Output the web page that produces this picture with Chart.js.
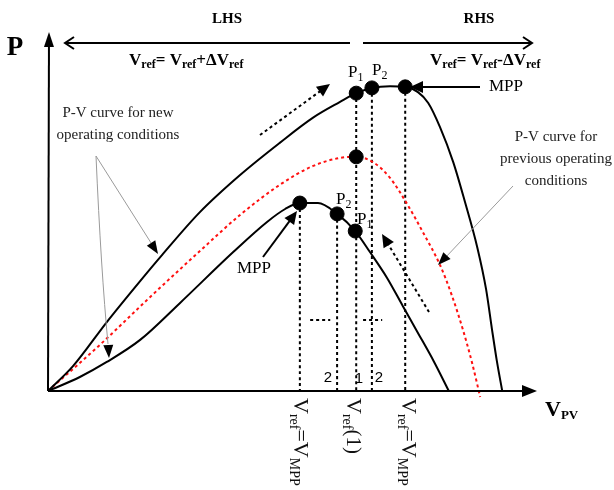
<!DOCTYPE html>
<html>
<head>
<meta charset="utf-8">
<script src="https://cdn.jsdelivr.net/npm/chart.js@4"></script>
<style>
  body { margin: 0; background: #fff; }
  #wrap { width: 614px; height: 490px; }
</style>
</head>
<body>
<div id="wrap"><canvas id="pvChart" width="614" height="490"></canvas></div>
<script>
// P-V curves (V and P in arbitrary units, origin of the axes = 0,0)
const upperV = [0, 5.1, 12.0, 18.8, 23.3, 31.0, 39.2, 47.3, 54.1, 59.6, 62.9, 66.1, 69.8, 72.9, 75.5, 77.6, 80.0, 82.7, 85.1, 87.6, 89.4, 90.6, 91.6, 92.7];
const upperP = [0, 7.1, 19.7, 31.4, 38.9, 51.1, 61.7, 70.9, 78.1, 82.6, 85.1, 86.6, 87.1, 86.9, 85.4, 82.3, 75.4, 65.4, 54.0, 41.1, 29.1, 17.7, 8.6, 0];
const redV = [0, 10.6, 20.8, 31.0, 39.2, 47.3, 54.1, 59.6, 62.9, 66.3, 69.8, 73.3, 76.5, 80.0, 82.4, 84.7, 86.5, 88.2];
const redP = [0, 13.2, 26.8, 40.0, 50.3, 58.9, 64.3, 66.6, 66.9, 65.4, 60.9, 53.4, 45.4, 36.0, 27.4, 17.4, 8.3, -1.7];
const lowerV = [0, 6.5, 12.0, 18.8, 26.9, 37.8, 44.7, 48.4, 51.4, 55.1, 59.0, 62.7, 65.7, 69.2, 72.4, 75.5, 78.8, 81.8];
const lowerP = [0, 4.0, 8.3, 14.6, 25.1, 39.7, 48.3, 52.0, 53.7, 53.7, 50.6, 45.7, 39.7, 32.3, 24.3, 16.6, 8.3, 0];

// operating points: upper P1, P2, MPP, previous peak, lower MPP, P2, P1
const dotV = [62.9, 66.1, 72.9, 62.9, 51.4, 59.0, 62.7];
const dotP = [85.1, 86.6, 86.9, 66.9, 53.7, 50.6, 45.7];

// dotted drop lines to the V axis
const dropV = [51.4, 59.0, 62.9, 66.1, 72.9];
const dropTop = [53.7, 50.6, 85.1, 86.6, 86.9];

// short dashed step markers
const stepV = [[53.5, 57.6], [64.3, 68.2]];
const stepP = 20.3;

const pts = (xs, ys) => xs.map((x, i) => ({ x: x, y: ys[i] }));

const SERIF = "'Liberation Serif', 'Times New Roman', serif";
const SANS = "'Liberation Sans', Arial, sans-serif";

function head(ctx, x1, y1, x2, y2, len, half) {
  const a = Math.atan2(y2 - y1, x2 - x1);
  ctx.beginPath();
  ctx.moveTo(x2, y2);
  ctx.lineTo(x2 - len * Math.cos(a) + half * Math.sin(a), y2 - len * Math.sin(a) - half * Math.cos(a));
  ctx.lineTo(x2 - len * Math.cos(a) - half * Math.sin(a), y2 - len * Math.sin(a) + half * Math.cos(a));
  ctx.closePath();
  ctx.fill();
}

function arrow(ctx, x1, y1, x2, y2, opt) {
  opt = opt || {};
  ctx.save();
  ctx.strokeStyle = opt.color || '#000';
  ctx.fillStyle = '#000';
  ctx.lineWidth = opt.width || 2;
  ctx.setLineDash(opt.dash || []);
  const a = Math.atan2(y2 - y1, x2 - x1);
  const len = opt.len || 12;
  ctx.beginPath();
  ctx.moveTo(x1, y1);
  ctx.lineTo(x2 - len * 0.8 * Math.cos(a), y2 - len * 0.8 * Math.sin(a));
  ctx.stroke();
  ctx.setLineDash([]);
  head(ctx, x1, y1, x2, y2, len, opt.half || 5);
  ctx.restore();
}

// draw text made of parts [text, size, bold, dy]
function rich(ctx, x, y, parts, align) {
  let w = 0;
  parts.forEach(p => {
    ctx.font = (p[2] ? 'bold ' : '') + p[1] + 'px ' + (p[4] || SERIF);
    w += ctx.measureText(p[0]).width;
  });
  let cx = align === 'center' ? x - w / 2 : x;
  parts.forEach(p => {
    ctx.font = (p[2] ? 'bold ' : '') + p[1] + 'px ' + (p[4] || SERIF);
    ctx.fillText(p[0], cx, y + (p[3] || 0));
    cx += ctx.measureText(p[0]).width;
  });
}

const annotations = {
  id: 'annotations',
  afterDatasetsDraw(chart) {
    const ctx = chart.ctx;
    const xs = chart.scales.x, ys = chart.scales.y;
    const ox = xs.getPixelForValue(0), oy = ys.getPixelForValue(0);
    ctx.save();
    ctx.fillStyle = '#000';
    ctx.textBaseline = 'middle';

    // axes
    arrow(ctx, ox, oy, ox + 1, 32, { len: 15, half: 5 });
    arrow(ctx, ox, oy, 537, oy, { len: 15, half: 6 });

    // LHS / RHS double arrow
    ctx.lineWidth = 2;
    ctx.beginPath();
    ctx.moveTo(65, 43); ctx.lineTo(350, 43);
    ctx.moveTo(363, 43); ctx.lineTo(532, 43);
    ctx.moveTo(74, 37); ctx.lineTo(65, 43); ctx.lineTo(74, 49);
    ctx.moveTo(523, 37); ctx.lineTo(532, 43); ctx.lineTo(523, 49);
    ctx.stroke();

    ctx.textAlign = 'left';
    rich(ctx, 227, 19, [['LHS', 15, true]], 'center');
    rich(ctx, 479, 19, [['RHS', 15, true]], 'center');
    rich(ctx, 15, 48, [['P', 27, true]], 'center');
    rich(ctx, 129, 61, [['V', 17, true], ['ref', 12, true, 4], ['= V', 17, true], ['ref', 12, true, 4], ['+\u0394V', 17, true], ['ref', 12, true, 4]]);
    rich(ctx, 430, 61, [['V', 17, true], ['ref', 12, true, 4], ['= V', 17, true], ['ref', 12, true, 4], ['-\u0394V', 17, true], ['ref', 12, true, 4]]);
    rich(ctx, 545, 410, [['V', 22, true], ['PV', 13, true, 6]]);

    // point labels
    rich(ctx, 348, 73, [['P', 17], ['1', 12, false, 5]]);
    rich(ctx, 372, 71, [['P', 17], ['2', 12, false, 5]]);
    rich(ctx, 336, 200, [['P', 17], ['2', 12, false, 5]]);
    rich(ctx, 357, 220, [['P', 17], ['1', 12, false, 5]]);
    rich(ctx, 489, 87, [['MPP', 17]]);
    rich(ctx, 237, 269, [['MPP', 17]]);
    arrow(ctx, 480, 87, 410, 87, { len: 13, half: 6 });
    arrow(ctx, 263, 257, 297, 211, { len: 13, half: 6 });

    // dotted direction arrows
    arrow(ctx, 260, 135, 330, 84, { dash: [3, 3], len: 13, half: 6 });
    arrow(ctx, 429, 312, 382, 234, { dash: [3, 3], len: 13, half: 6 });

    // step numbers
    ctx.font = '15px ' + SANS;
    ctx.textAlign = 'center';
    ctx.fillText('2', 328, 378);
    ctx.fillText('1', 359, 379);
    ctx.fillText('2', 379, 378);

    // curve captions
    ctx.fillStyle = '#222';
    ctx.font = '15px ' + SERIF;
    ctx.fillText('P-V curve for new', 118, 113);
    ctx.fillText('operating conditions', 118, 135);
    ctx.fillText('P-V curve for', 556, 137);
    ctx.fillText('previous operating', 556, 159);
    ctx.fillText('conditions', 556, 181);

    // gray leader lines
    ctx.strokeStyle = '#9a9a9a';
    ctx.lineWidth = 1;
    ctx.beginPath();
    ctx.moveTo(96, 156); ctx.lineTo(153, 246);
    ctx.moveTo(96, 156); ctx.quadraticCurveTo(101, 270, 108, 344);
    ctx.moveTo(513, 186); ctx.lineTo(445, 258);
    ctx.stroke();
    ctx.fillStyle = '#000';
    head(ctx, 96, 156, 158, 254, 13, 5);
    head(ctx, 104, 270, 109, 358, 13, 5);
    head(ctx, 513, 186, 438, 265, 13, 5);

    // rotated V_ref labels under the axis
    const rot = (x, y, parts) => {
      ctx.save();
      ctx.translate(x, y);
      ctx.rotate(Math.PI / 2);
      ctx.textAlign = 'left';
      ctx.textBaseline = 'middle';
      rich(ctx, 0, 0, parts);
      ctx.restore();
    };
    ctx.fillStyle = '#111';
    rot(300, 398, [['V', 22], ['ref', 14, false, 6], ['=V', 22], ['MPP', 14, false, 6]]);
    rot(353, 398, [['V', 22], ['ref', 14, false, 6], ['(1)', 21]]);
    rot(408, 398, [['V', 22], ['ref', 14, false, 6], ['=V', 22], ['MPP', 14, false, 6]]);

    ctx.restore();
  }
};

const datasets = [
  { data: pts(upperV, upperP), borderColor: '#000', borderWidth: 2, order: 2 },
  { data: pts(redV, redP), borderColor: '#ff1010', borderWidth: 2, borderDash: [3, 3], order: 3 },
  { data: pts(lowerV, lowerP), borderColor: '#000', borderWidth: 2, order: 2 },
  { data: pts(dotV, dotP), showLine: false, pointRadius: 7, pointBackgroundColor: '#000', pointBorderColor: '#000', order: 0 }
];
dropV.forEach((v, i) => {
  datasets.push({ data: [{ x: v, y: dropTop[i] }, { x: v, y: 0 }], borderColor: '#000', borderWidth: 2, borderDash: [3, 3], order: 4 });
});
stepV.forEach(s => {
  datasets.push({ data: [{ x: s[0], y: stepP }, { x: s[1], y: stepP }], borderColor: '#000', borderWidth: 2, borderDash: [3, 3], order: 4 });
});
datasets.forEach(d => {
  d.showLine = d.showLine !== false;
  if (d.pointRadius === undefined) d.pointRadius = 0;
  d.cubicInterpolationMode = 'monotone';
});

new Chart(document.getElementById('pvChart'), {
  type: 'scatter',
  data: { datasets: datasets },
  options: {
    responsive: false,
    animation: false,
    layout: { padding: 0, autoPadding: false },
    plugins: { legend: { display: false }, tooltip: { enabled: false } },
    scales: {
      x: { type: 'linear', min: -9.796, max: 115.51, display: false },
      y: { type: 'linear', min: -28.286, max: 111.714, display: false }
    }
  },
  plugins: [annotations]
});
</script>
</body>
</html>
